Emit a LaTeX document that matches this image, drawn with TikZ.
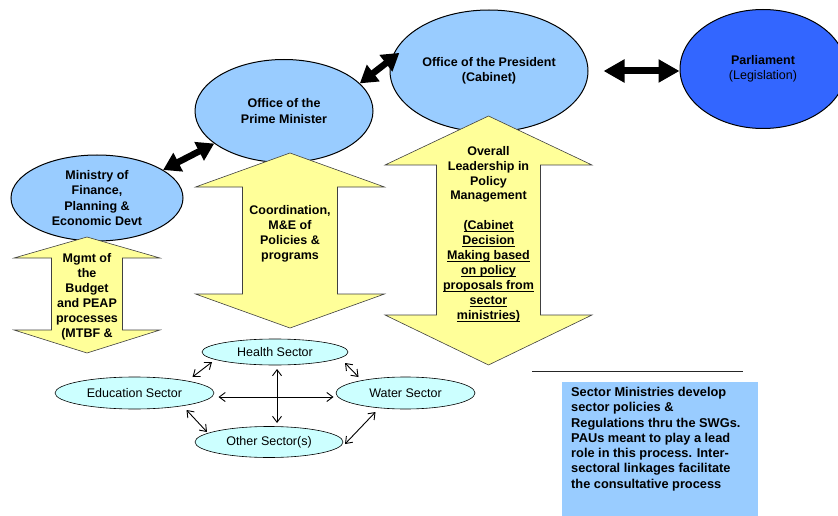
\documentclass[tikz,border=0pt]{standalone}
\usepackage{fontspec}
\setmainfont{Liberation Sans}
\usetikzlibrary{arrows.meta,shapes.geometric}
\definecolor{lblue}{HTML}{99CCFF}
\definecolor{dblue}{HTML}{3366FF}
\definecolor{lyellow}{HTML}{FFFF99}
\definecolor{lcyan}{HTML}{CCFFFF}
\newcommand{\myul}[1]{\setbox0\hbox{#1}\rlap{\rule[-2.4pt]{\wd0}{1pt}}\box0}
\newcommand{\dblarrow}[7]{\draw[blockarrow] (#1,#2) -- (#1+#5,#3) -- (#1+#4,#3) -- (#1+#4,#6) -- (#1+#5,#6) -- (#1,#7) -- (#1-#5,#6) -- (#1-#4,#6) -- (#1-#4,#3) -- (#1-#5,#3) -- cycle;}
\begin{document}
\begin{tikzpicture}[x=1pt,y=-1pt,
  bigell/.style={ellipse, draw=black, line width=1pt, fill=lblue, inner sep=0pt, align=center, font=\fontsize{12.5}{15.3}\selectfont\bfseries},
  secell/.style={ellipse, draw=black, line width=0.6pt, fill=lcyan, inner sep=0pt, font=\fontsize{12.5}{15}\selectfont},
  blockarrow/.style={draw=black!75, line width=0.6pt, fill=lyellow},
  arrtext/.style={align=center, font=\fontsize{12.5}{14.9}\selectfont\bfseries, inner sep=0pt},
  linkarrow/.style={{Triangle[width=20pt,length=17pt]}-{Triangle[width=20pt,length=17pt]}, line width=6.5pt},
  secarrow/.style={{Straight Barb[length=6pt,width=9pt]}-{Straight Barb[length=6pt,width=9pt]}, line width=0.9pt}
]
\useasboundingbox (0,0) rectangle (838,516);
\clip (0,0) rectangle (838,516);

% top-level bodies
\node[bigell, minimum width=172pt, minimum height=86pt] (mof) at (97,198) {Ministry of\\Finance,\\Planning \&\\Economic Devt};
\node[bigell, minimum width=178pt, minimum height=103pt] (opm) at (284,111) {Office of the\\Prime Minister};
\node[bigell, minimum width=198pt, minimum height=122pt] (op) at (489,71) {Office of the President\\(Cabinet)};
\node[bigell, fill=dblue, minimum width=166pt, minimum height=119pt, font=\fontsize{12.5}{15.3}\selectfont] (parl) at (763,69) {\textbf{Parliament}\\(Legislation)};

% black links
\draw[linkarrow] (mof.23) -- (opm.205);
\draw[linkarrow, shorten >=-10pt] (opm.20) -- (op.173);
\draw[linkarrow, {Triangle[width=22pt,length=21pt]}-{Triangle[width=22pt,length=21pt]}, line width=7pt, shorten <=15pt] (op.east) -- (op.east -| parl.west);

% yellow block arrows
\dblarrow{87}{237}{258}{35.5}{73}{330}{353}
\dblarrow{290}{153}{187}{47.5}{94.5}{294}{328}
\dblarrow{488.5}{116}{165}{52}{103.5}{315}{365}

\node[arrtext] (t1) at (87,297) {Mgmt of\\the\\Budget\\and PEAP\\processes\\(MTBF \&};
\node[arrtext] (t2) at (290,234) {Coordination,\\M\&E of\\Policies \&\\programs};
\node[arrtext] (t3) at (488.5,234) {Overall\\Leadership in\\Policy\\Management\\[14.9pt]\myul{(Cabinet}\\\myul{Decision}\\\myul{Making based}\\\myul{on policy}\\\myul{proposals from}\\\myul{sector}\\\myul{ministries)}};

% sectors
\node[secell, minimum width=146pt, minimum height=26pt] (health) at (275,352) {Health Sector};
\node[secell, minimum width=159pt, minimum height=32pt] (edu) at (134.5,393) {Education Sector};
\node[secell, minimum width=139pt, minimum height=32pt] (water) at (405.5,393) {Water Sector};
\node[secell, minimum width=148pt, minimum height=31pt] (other) at (269,442) {Other Sector(s)};

\draw[secarrow] ([shift={(-63,10)}]health.center) -- ([shift={(58,-16)}]edu.center);
\draw[secarrow] ([shift={(70,11)}]health.center) -- ([shift={(-47,-16)}]water.center);
\draw[secarrow] ([shift={(52,17)}]edu.center) -- ([shift={(-62,-10)}]other.center);
\draw[secarrow] ([shift={(-30,19)}]water.center) -- ([shift={(76,2)}]other.center);
\draw[secarrow] ([shift={(84,4)}]edu.center) -- ([shift={(-72,4)}]water.center);
\draw[secarrow] ([shift={(2,17)}]health.center) -- ([shift={(8,-19)}]other.center);

% separator line
\coordinate (l1) at (532,371);
\coordinate (l2) at (743,371);
\draw[line width=0.8pt, black!85] (l1) -- (l2);

% note box
\node[fill=lblue, minimum width=196pt, minimum height=140pt, anchor=north west, inner sep=0pt] (box) at (562,382) {};
\node[anchor=north west, align=left, inner sep=0pt, font=\fontsize{12.8}{15.3}\selectfont\bfseries] (boxtxt) at ([shift={(9,5)}]box.north west) {Sector Ministries develop\\sector policies \&\\Regulations thru the SWGs.\\PAUs meant to play a lead\\role in this process. Inter-\\sectoral linkages facilitate\\the consultative process};
\end{tikzpicture}
\end{document}
